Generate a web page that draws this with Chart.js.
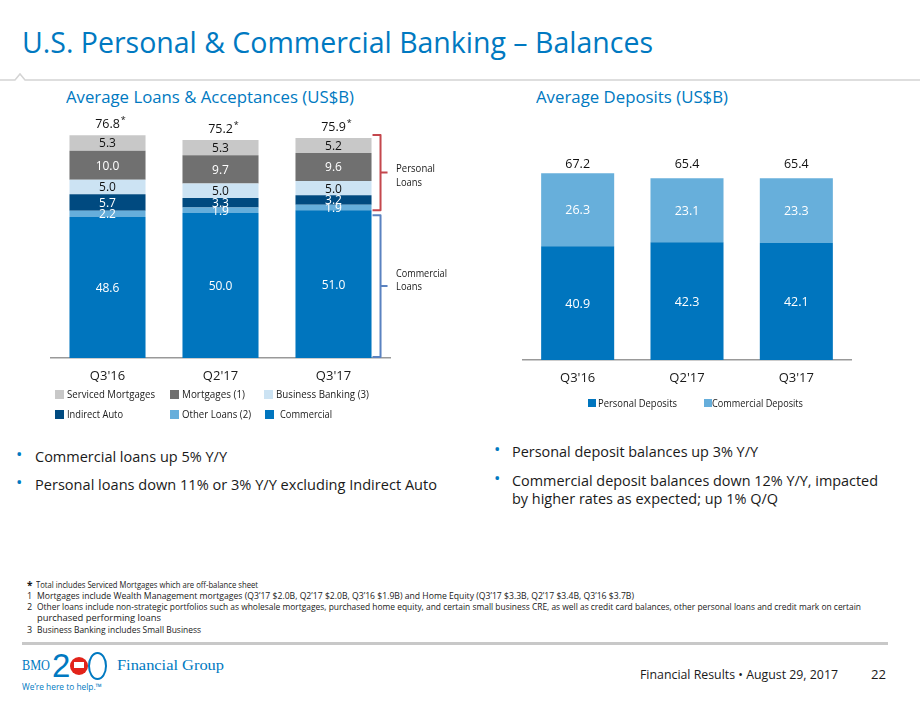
<!DOCTYPE html>
<html><head><meta charset="utf-8">
<script src="https://cdn.jsdelivr.net/npm/chart.js@4.4.0/dist/chart.umd.min.js"></script>
<style>
body{margin:0;width:920px;height:702px;position:relative;background:#fff;font-family:"Open Sans",sans-serif;overflow:hidden;color:#1a1a1a}
.t{position:absolute;white-space:nowrap;transform-origin:left center}
.blue{color:#0079c1}
.sq{position:absolute;width:9px;height:9px}
canvas{position:absolute}
</style></head>
<body>
<div class="t blue" style="left:22px;top:24px;font-size:29px;line-height:36px" data-w="631">U.S. Personal &amp; Commercial Banking – Balances</div>
<svg style="position:absolute;left:0;top:70px" width="920" height="14"><polyline points="0,10 15,10 20,4 25,10 920,10" fill="none" stroke="#d4d4d4" stroke-width="1.5"/></svg>
<div class="t blue" style="left:66px;top:86px;font-size:17px;line-height:22px" data-w="288">Average Loans &amp; Acceptances (US$B)</div>
<div class="t blue" style="left:536px;top:86px;font-size:17px;line-height:22px" data-w="192">Average Deposits (US$B)</div>

<canvas id="c1" width="460" height="300" style="left:0;top:100px;width:460px;height:300px"></canvas>
<canvas id="c2" width="400" height="300" style="left:470px;top:100px;width:400px;height:300px"></canvas>

<div class="t" style="left:396px;top:161px;font-size:11px;line-height:14px" data-w="39">Personal</div>
<div class="t" style="left:396px;top:175px;font-size:11px;line-height:14px" data-w="26">Loans</div>
<div class="t" style="left:396px;top:266px;font-size:11px;line-height:14px" data-w="51">Commercial</div>
<div class="t" style="left:396px;top:279px;font-size:11px;line-height:14px" data-w="26">Loans</div>

<!-- left legend -->
<div class="sq" style="left:55px;top:390px;background:#c8c8c8"></div><div class="t" style="left:67px;top:387px;font-size:11px;line-height:14px" data-w="88">Serviced Mortgages</div>
<div class="sq" style="left:170px;top:390px;background:#707070"></div><div class="t" style="left:182px;top:387px;font-size:11px;line-height:14px" data-w="63">Mortgages (1)</div>
<div class="sq" style="left:264px;top:390px;background:#cce3f3"></div><div class="t" style="left:276px;top:387px;font-size:11px;line-height:14px" data-w="93">Business Banking (3)</div>
<div class="sq" style="left:55px;top:410px;background:#004a80"></div><div class="t" style="left:67px;top:407px;font-size:11px;line-height:14px" data-w="56">Indirect Auto</div>
<div class="sq" style="left:170px;top:410px;background:#66aedb"></div><div class="t" style="left:182px;top:407px;font-size:11px;line-height:14px" data-w="69">Other Loans (2)</div>
<div class="sq" style="left:265px;top:410px;background:#0075be"></div><div class="t" style="left:280px;top:407px;font-size:11px;line-height:14px" data-w="52">Commercial</div>

<!-- right legend -->
<div class="sq" style="left:588px;top:399px;width:8px;height:8px;background:#0075be"></div><div class="t" style="left:598px;top:396px;font-size:11px;line-height:14px" data-w="79">Personal Deposits</div>
<div class="sq" style="left:704px;top:399px;width:8px;height:8px;background:#66aedb"></div><div class="t" style="left:712px;top:396px;font-size:11px;line-height:14px" data-w="91">Commercial Deposits</div>

<!-- bullets -->
<div class="t blue" style="left:16px;top:444px;font-size:17px;line-height:20px">•</div>
<div class="t" style="left:35px;top:446px;font-size:15px;line-height:20px" data-w="192">Commercial loans up 5% Y/Y</div>
<div class="t blue" style="left:16px;top:472px;font-size:17px;line-height:20px">•</div>
<div class="t" style="left:35px;top:474px;font-size:15px;line-height:20px" data-w="402">Personal loans down 11% or 3% Y/Y excluding Indirect Auto</div>

<div class="t blue" style="left:494px;top:439px;font-size:17px;line-height:20px">•</div>
<div class="t" style="left:512px;top:441px;font-size:15px;line-height:20px" data-w="246">Personal deposit balances up 3% Y/Y</div>
<div class="t blue" style="left:494px;top:468px;font-size:17px;line-height:20px">•</div>
<div class="t" style="left:512px;top:470px;font-size:15px;line-height:20px" data-w="366">Commercial deposit balances down 12% Y/Y, impacted</div>
<div class="t" style="left:512px;top:488px;font-size:15px;line-height:20px" data-w="266">by higher rates as expected; up 1% Q/Q</div>

<!-- footnotes -->
<div class="t" style="left:27px;top:579px;font-size:10px;line-height:12px;font-weight:bold">*</div>
<div class="t" style="left:36px;top:579px;font-size:9px;line-height:12px" data-w="222">Total includes Serviced Mortgages which are off-balance sheet</div>
<div class="t" style="left:27px;top:590px;font-size:9px;line-height:12px">1</div>
<div class="t" style="left:37px;top:590px;font-size:9px;line-height:12px" data-w="597">Mortgages include Wealth Management mortgages (Q3’17 $2.0B, Q2’17 $2.0B, Q3’16 $1.9B) and Home Equity (Q3’17 $3.3B, Q2’17 $3.4B, Q3’16 $3.7B)</div>
<div class="t" style="left:27px;top:601px;font-size:9px;line-height:12px">2</div>
<div class="t" style="left:37px;top:601px;font-size:9px;line-height:12px" data-w="824">Other loans include non-strategic portfolios such as wholesale mortgages, purchased home equity, and certain small business CRE, as well as credit card balances, other personal loans and credit mark on certain</div>
<div class="t" style="left:37px;top:612px;font-size:9px;line-height:12px" data-w="124">purchased performing loans</div>
<div class="t" style="left:27px;top:624px;font-size:9px;line-height:12px">3</div>
<div class="t" style="left:37px;top:624px;font-size:9px;line-height:12px" data-w="164">Business Banking includes Small Business</div>

<!-- footer -->
<div style="position:absolute;left:22px;top:642px;width:866px;height:3px;background:#c8c8c8"></div>
<div class="t" style="left:22px;top:658px;font-family:'Liberation Serif',serif;font-size:14px;line-height:16px;color:#0079c1" data-w="28">BMO</div>
<div class="t" style="left:52px;top:648px;font-family:'Liberation Sans',sans-serif;font-size:33px;line-height:36px;color:#0079c1;font-weight:300">2</div>
<div style="position:absolute;left:70px;top:657px;width:18px;height:18px;border-radius:50%;background:#e2231a"></div>
<div style="position:absolute;left:74px;top:662px;width:10px;height:6px;background:#fff"></div>
<div style="position:absolute;left:88px;top:652px;width:15px;height:24px;border-radius:50%;border:2px solid #0079c1"></div>
<div class="t" style="left:117px;top:658px;font-family:'Liberation Serif',serif;font-size:14px;line-height:16px;color:#0079c1" data-w="107">Financial Group</div>
<div class="t" style="left:22px;top:681px;font-size:9px;line-height:12px;color:#0079c1" data-w="80">We’re here to help.™</div>
<div class="t" style="left:640px;top:665px;font-size:13px;line-height:18px" data-w="198">Financial Results • August 29, 2017</div>
<div class="t" style="left:871px;top:665px;font-size:13px;line-height:18px" data-w="15">22</div>

<script>
const categories = ["Q3'16", "Q2'17", "Q3'17"];
// Loans & Acceptances (US$B), bottom to top
const commercial = [48.6, 50.0, 51.0];
const otherLoans = [2.2, 1.9, 1.9];
const indirectAuto = [5.7, 3.3, 3.2];
const businessBanking = [5.0, 5.0, 5.0];
const mortgages = [10.0, 9.7, 9.6];
const servicedMortgages = [5.3, 5.3, 5.2];
const loanTotals = [76.8, 75.2, 75.9];
// Deposits (US$B)
const personalDeposits = [40.9, 42.3, 42.1];
const commercialDeposits = [26.3, 23.1, 23.3];
const depositTotals = [67.2, 65.4, 65.4];

const FONT = '"Open Sans", sans-serif';

const segLabels = {
  id: 'segLabels',
  afterDatasetsDraw(chart) {
    const ctx = chart.ctx;
    const o = chart.options.plugins.segLabels;
    ctx.save();
    ctx.textAlign = 'center';
    ctx.textBaseline = 'middle';
    chart.data.datasets.forEach((ds, di) => {
      const meta = chart.getDatasetMeta(di);
      meta.data.forEach((el, i) => {
        const v = ds.data[i];
        ctx.fillStyle = ds.labelColor;
        ctx.font = o.size + 'px ' + FONT;
        ctx.fillText(v.toFixed(1), el.x, (el.y + el.base) / 2 + 1);
      });
    });
    // totals
    const last = chart.getDatasetMeta(chart.data.datasets.length - 1);
    ctx.fillStyle = '#111';
    last.data.forEach((el, i) => {
      const t = o.totals[i];
      const y = o.fixedTop ? chart.scales.y.getPixelForValue(Math.max(...o.totals)) - o.gap
                           : el.y - o.gap;
      ctx.font = '12.5px ' + FONT;
      const s = t.toFixed(1);
      ctx.textAlign = 'center';
      ctx.fillText(s, el.x, y);
      if (o.star) {
        const w = ctx.measureText(s).width;
        ctx.font = '9px ' + FONT;
        ctx.textAlign = 'left';
        ctx.fillText('*', el.x + w / 2 + 1, y - 4);
      }
    });
    ctx.restore();
  }
};

const brackets = {
  id: 'brackets',
  afterDatasetsDraw(chart) {
    if (!chart.options.plugins.brackets.on) return;
    const ctx = chart.ctx;
    const last = chart.getDatasetMeta(chart.data.datasets.length - 1).data[2];
    const bx = last.x + last.width / 2 + 9;
    const ys = chart.scales.y;
    const pTop = ys.getPixelForValue(loanTotals[2]) - 3;
    const pBot = ys.getPixelForValue(commercial[2]);
    const cTop = pBot + 5;
    const cBot = ys.getPixelForValue(0) - 1;
    const draw = (top, bot, col) => {
      ctx.beginPath();
      ctx.moveTo(bx - 8, top); ctx.lineTo(bx, top); ctx.lineTo(bx, bot); ctx.lineTo(bx - 8, bot);
      const mid = (top + bot) / 2;
      ctx.moveTo(bx, mid); ctx.lineTo(bx + 7, mid);
      ctx.strokeStyle = col; ctx.lineWidth = 2; ctx.lineJoin = 'round';
      ctx.stroke();
    };
    ctx.save();
    draw(pTop, pBot, '#c4474d');
    draw(cTop, cBot, '#5a82c0');
    ctx.restore();
  }
};

function xAxis(h) {
  return {
    stacked: true,
    grid: { display: false, drawTicks: false },
    border: { display: true, color: '#999', width: 1.5 },
    ticks: { color: '#1a1a1a', font: { size: 13, family: FONT }, padding: 10 },
    afterFit: s => { s.height = h; }
  };
}

new Chart(document.getElementById('c1'), {
  type: 'bar',
  data: {
    labels: categories,
    datasets: [
      { label: 'Commercial', data: commercial, backgroundColor: '#0075be', labelColor: '#fff' },
      { label: 'Other Loans (2)', data: otherLoans, backgroundColor: '#66aedb', labelColor: '#fff' },
      { label: 'Indirect Auto', data: indirectAuto, backgroundColor: '#004a80', labelColor: '#fff' },
      { label: 'Business Banking (3)', data: businessBanking, backgroundColor: '#cce3f3', labelColor: '#111' },
      { label: 'Mortgages (1)', data: mortgages, backgroundColor: '#707070', labelColor: '#fff' },
      { label: 'Serviced Mortgages', data: servicedMortgages, backgroundColor: '#c8c8c8', labelColor: '#111' }
    ].map(d => Object.assign(d, { barPercentage: 0.673, categoryPercentage: 1, borderWidth: 0 }))
  },
  options: {
    responsive: false, animation: false, devicePixelRatio: 1,
    layout: { padding: { left: 51, right: 70, top: 0, bottom: 0 } },
    scales: { x: xAxis(42), y: { stacked: true, display: false, min: 0, max: 89 } },
    plugins: {
      legend: { display: false }, tooltip: { enabled: false },
      segLabels: { size: 12, totals: loanTotals, gap: 11, star: true, fixedTop: false },
      brackets: { on: true }
    }
  },
  plugins: [segLabels, brackets]
});

new Chart(document.getElementById('c2'), {
  type: 'bar',
  data: {
    labels: categories,
    datasets: [
      { label: 'Personal Deposits', data: personalDeposits, backgroundColor: '#0075be', labelColor: '#fff' },
      { label: 'Commercial Deposits', data: commercialDeposits, backgroundColor: '#67afdb', labelColor: '#fff' }
    ].map(d => Object.assign(d, { barPercentage: 0.668, categoryPercentage: 1, borderWidth: 0 }))
  },
  options: {
    responsive: false, animation: false, devicePixelRatio: 1,
    layout: { padding: { left: 53, right: 19, top: 0, bottom: 0 } },
    scales: { x: xAxis(40), y: { stacked: true, display: false, min: 0, max: 93.5 } },
    plugins: {
      legend: { display: false }, tooltip: { enabled: false },
      segLabels: { size: 12.5, totals: depositTotals, gap: 9, star: false, fixedTop: true },
      brackets: { on: false }
    }
  },
  plugins: [segLabels, brackets]
});

function fit() {
  document.querySelectorAll('[data-w]').forEach(el => {
    el.style.transform = 'none';
    const w = el.getBoundingClientRect().width;
    const t = +el.dataset.w;
    if (w > 0) el.style.transform = 'scaleX(' + (t / w) + ')';
  });
}
fit();
if (document.fonts && document.fonts.ready) document.fonts.ready.then(fit);
</script>
</body></html>
